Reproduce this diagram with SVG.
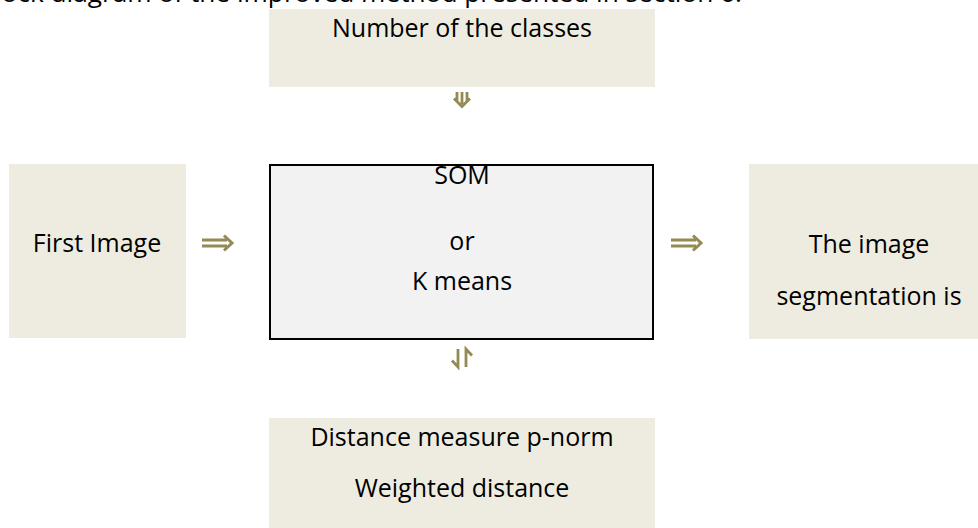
<svg xmlns="http://www.w3.org/2000/svg" xmlns:xlink="http://www.w3.org/1999/xlink" width="978" height="528" viewBox="0 0 978 528">
<style>
.box{fill:#EEECE1;}
.main{fill:#F2F2F2;stroke:#000;stroke-width:2;}
.t{font-family:"Open Sans","Liberation Sans",sans-serif;font-size:25px;fill:#000;text-anchor:middle;}
.arr{fill:none;stroke:#948A54;stroke-width:3;}
.arr2{fill:none;stroke:#948A54;stroke-width:2.8;}
</style>
<defs>
<g id="dblR">
<path d="M0,-3 H25 M0,3 H25 M22,-7.5 L30,0 L22,7.5"/>
</g>
</defs>
<rect width="978" height="528" fill="#fff"/>
<text class="t" x="-22" y="2" style="text-anchor:start" textLength="764" lengthAdjust="spacingAndGlyphs">Block diagram of the improved method presented in section 6.</text>
<g id="classes">
<rect class="box" x="269" y="9" width="386" height="78"/>
<text class="t" x="462" y="37">Number of the classes</text>
</g>
<g id="first-image">
<rect class="box" x="9" y="164" width="177" height="174"/>
<text class="t" x="97" y="252">First Image</text>
</g>
<g id="som">
<rect class="main" x="270" y="165" width="383" height="174"/>
<text class="t" x="462" y="184">SOM</text>
<text class="t" x="462" y="250">or</text>
<text class="t" x="462" y="290">K means</text>
</g>
<g id="segmentation">
<rect class="box" x="749" y="164" width="229" height="175"/>
<text class="t" x="869" y="253">The image</text>
<text class="t" x="869" y="305">segmentation is</text>
</g>
<g id="distance">
<rect class="box" x="269" y="418" width="386" height="110"/>
<text class="t" x="462" y="446">Distance measure p-norm</text>
<text class="t" x="462" y="497">Weighted distance</text>
</g>
<g id="connectors">
<use xlink:href="#dblR" class="arr" x="202" y="243"/>
<use xlink:href="#dblR" class="arr" x="671" y="243"/>
<path class="arr2" d="M457,92 V102 M462,92 V104 M467,92 V102 M454,98.5 L462,106.5 L470,98.5"/>
<path class="arr2" d="M458,349 V367 L452,360.5 M466,367 V349 L472,355.5"/>
</g>
</svg>
